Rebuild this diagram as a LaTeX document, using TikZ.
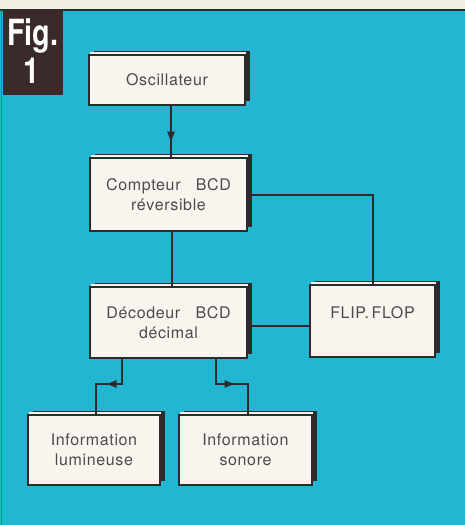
\documentclass[tikz,border=0pt]{standalone}
\usepackage{fontspec}
\setmainfont{TeX Gyre Heros}[LetterSpace=4]
\newfontfamily\figfont{TeX Gyre Heros}[FakeStretch=0.8]
\usetikzlibrary{shadows,arrows.meta,decorations.markings}
\definecolor{bgcyan}{HTML}{22B6D2}
\definecolor{ink}{HTML}{2E2A2C}
\definecolor{boxcream}{HTML}{F7F5EE}
\definecolor{figbox}{HTML}{3A2B2A}
\definecolor{paper}{HTML}{F3EFE4}
\tikzset{
  blk/.style={draw=ink, line width=2pt, fill=boxcream, text=ink!85,
    align=center, font=\fontsize{16}{20}\selectfont, inner sep=0pt,
    general shadow={fill=ink, shadow xshift=5pt, shadow yshift=4pt},
    general shadow={fill=boxcream, shadow xshift=0.5pt, shadow yshift=3pt}},
  wire/.style={draw=ink, line width=2pt},
  figtext/.style={text=white, font=\figfont\bfseries\fontsize{36}{34}\selectfont, inner sep=0pt},
  midarrow/.style={postaction={decorate}, decoration={markings,
    mark=at position #1 with {\arrow{Triangle[length=10pt,width=7pt]}}}}
}
\begin{document}
\begin{tikzpicture}[x=1pt,y=-1pt]
\useasboundingbox (0,0) rectangle (465,525);
\fill[paper] (0,0) rectangle (465,525);
\fill[bgcyan] (0,10) rectangle (465,525);
\draw[ink, line width=1.5pt] (0,10) -- (465,10);
\draw[ink!70, line width=0.8pt] (1.5,10) -- (1.5,525);
% Fig label
\node[fill=figbox, minimum width=60pt, minimum height=85pt, inner sep=0pt] (fig) at (33,52.5) {};
\node[figtext] (figtxt) at (33,36) {Fig.};
\node[figtext] (fignum) at (32,71) {1};
% boxes
\node[blk, minimum width=156pt, minimum height=50pt] (osc) at (167,80) {Oscillateur};
\node[blk, minimum width=157pt, minimum height=73pt] (cpt) at (168.5,194.5) {Compteur\ \ \ BCD\\r\'eversible};
\node[blk, minimum width=157pt, minimum height=71pt] (dec) at (168.5,322.5) {D\'ecodeur\ \ \ BCD\\d\'ecimal};
\node[blk, minimum width=125pt, minimum height=72pt] (ff) at (372.5,321) {\raisebox{16pt}{FLIP.\,FLOP}};
\node[blk, minimum width=132pt, minimum height=70pt] (il) at (94,450) {Information\\lumineuse};
\node[blk, minimum width=133pt, minimum height=70pt] (is) at (245.5,450) {Information\\sonore};
% connectors
\draw[wire, midarrow=0.7] ([xshift=4pt]osc.south) -- ([xshift=2.5pt]cpt.north);
\draw[wire] (cpt.east) -| (ff.north);
\draw[wire] ([yshift=-3pt]dec.east) -- ([yshift=-3pt]dec.east -| ff.west);
\draw[wire] ([xshift=3.5pt]cpt.south) -- ([xshift=3.5pt]dec.north);
\draw[wire, midarrow=0.5] ([xshift=-46.5pt]dec.south) -- ++(0,25) -| ([xshift=2pt]il.north);
\draw[wire, midarrow=0.5] ([xshift=47.5pt]dec.south) -- ++(0,25) -| ([xshift=2.5pt]is.north);
\end{tikzpicture}
\end{document}
